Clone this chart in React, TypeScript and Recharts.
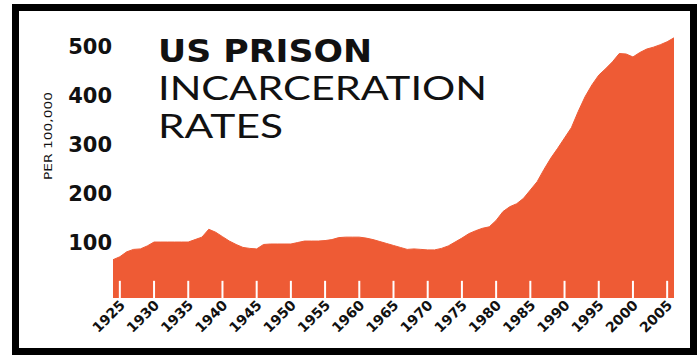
import { Area, AreaChart, ReferenceLine, XAxis, YAxis } from "recharts";

const years = [
  1924, 1925, 1926, 1927, 1928, 1929, 1930, 1931, 1932, 1933, 1934, 1935, 1936, 1937,
  1938, 1939, 1940, 1941, 1942, 1943, 1944, 1945, 1946, 1947, 1948, 1949, 1950, 1951,
  1952, 1953, 1954, 1955, 1956, 1957, 1958, 1959, 1960, 1961, 1962, 1963, 1964, 1965,
  1966, 1967, 1968, 1969, 1970, 1971, 1972, 1973, 1974, 1975, 1976, 1977, 1978, 1979,
  1980, 1981, 1982, 1983, 1984, 1985, 1986, 1987, 1988, 1989, 1990, 1991, 1992, 1993,
  1994, 1995, 1996, 1997, 1998, 1999, 2000, 2001, 2002, 2003, 2004, 2005, 2006,
];

// inmates per 100,000
const rates = [
  78, 84, 94, 99, 100, 106, 114, 114, 114, 114, 114, 114, 119, 124,
  140, 134, 125, 116, 109, 103, 101, 100, 109, 110, 110, 110, 110, 113,
  116, 116, 116, 117, 119, 123, 124, 124, 124, 122, 119, 115, 111, 107,
  103, 99, 100, 99, 98, 98, 101, 106, 114, 122, 131, 137, 142, 145,
  158, 176, 186, 192, 203, 220, 237, 262, 285, 305, 326, 347, 380, 410,
  434, 454, 467, 481, 498, 497, 491, 500, 507, 511, 516, 522, 530,
];

const yearTicks = [
  1925, 1930, 1935, 1940, 1945, 1950, 1955, 1960, 1965, 1970, 1975, 1980, 1985, 1990,
  1995, 2000, 2005,
];
const rateTicks = [100, 200, 300, 400, 500];

const data = years.map((year, i) => ({ year, rate: rates[i] }));

const ORANGE = "#EE5B35";
const NUM_FONT = "'DejaVu Sans', sans-serif";

function YearTick({ x, y, payload }: any) {
  const px = x + 6;
  const py = y;
  return (
    <text
      x={px}
      y={py}
      transform={`rotate(-45, ${px}, ${py})`}
      textAnchor="end"
      fontFamily={NUM_FONT}
      fontWeight={700}
      fontSize={14}
      fill="#111"
    >
      {payload.value}
    </text>
  );
}

function RateTick({ x, y, payload }: any) {
  return (
    <text
      x={x - 1}
      y={y - 6}
      dominantBaseline="central"
      textAnchor="end"
      fontFamily={NUM_FONT}
      fontWeight={700}
      fontSize={21}
      fill="#111"
    >
      {payload.value}
    </text>
  );
}

export default function App() {
  return (
    <div
      style={{
        position: "absolute",
        left: 0,
        top: 0,
        width: 698,
        height: 355,
        background: "#fff",
        overflow: "hidden",
      }}
    >
      <AreaChart
        width={698}
        height={355}
        data={data}
        margin={{ top: 28, right: 24, left: 53, bottom: 0 }}
      >
        <XAxis
          dataKey="year"
          type="number"
          domain={[1924, 2006]}
          ticks={yearTicks}
          interval={0}
          height={57}
          tickLine={false}
          axisLine={false}
          tick={<YearTick />}
        />
        <YAxis
          domain={[0, 550]}
          ticks={rateTicks}
          width={60}
          tickLine={false}
          axisLine={false}
          tickSize={0}
          tickMargin={0}
          tick={<RateTick />}
        />
        <Area
          type="linear"
          dataKey="rate"
          stroke={ORANGE}
          strokeWidth={1}
          fill={ORANGE}
          fillOpacity={1}
          isAnimationActive={false}
        />
        {yearTicks.map((yr) => (
          <ReferenceLine
            key={yr}
            segment={[
              { x: yr, y: 0 },
              { x: yr, y: 35 },
            ]}
            stroke="#fff"
            strokeWidth={2}
          />
        ))}
      </AreaChart>

      <svg
        width={698}
        height={355}
        style={{ position: "absolute", left: 0, top: 0, pointerEvents: "none" }}
      >
        <text
          x={158}
          y={62}
          fontFamily={NUM_FONT}
          fontWeight={700}
          fontSize={32}
          textLength={214}
          lengthAdjust="spacingAndGlyphs"
          fill="#111"
        >
          US PRISON
        </text>
        <text
          x={158}
          y={100}
          fontFamily="Lato, sans-serif"
          fontWeight={400}
          fontSize={33}
          textLength={329}
          lengthAdjust="spacingAndGlyphs"
          fill="#111"
        >
          INCARCERATION
        </text>
        <text
          x={158}
          y={138}
          fontFamily="Lato, sans-serif"
          fontWeight={400}
          fontSize={33}
          textLength={125}
          lengthAdjust="spacingAndGlyphs"
          fill="#111"
        >
          RATES
        </text>
        <text
          x={52}
          y={136}
          transform="rotate(-90, 52, 136)"
          textAnchor="middle"
          fontFamily={NUM_FONT}
          fontSize={11}
          textLength={88}
          lengthAdjust="spacingAndGlyphs"
          fill="#111"
        >
          PER 100,000
        </text>
      </svg>

      <div
        style={{
          position: "absolute",
          left: 12,
          top: 4,
          width: 685,
          height: 351,
          boxSizing: "border-box",
          border: "7px solid #000",
        }}
      />
    </div>
  );
}
